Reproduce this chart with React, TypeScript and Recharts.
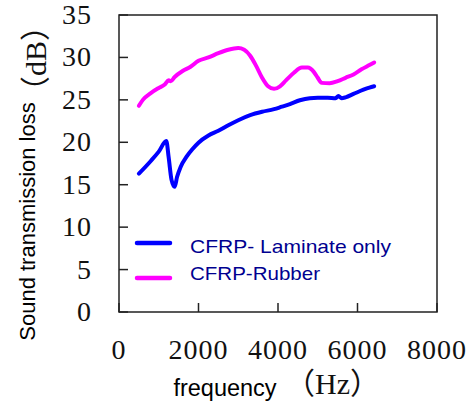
import React from 'react';
import { LineChart, Line, XAxis, YAxis, ReferenceArea, Legend } from 'recharts';

const laminateFreq = [500, 800, 1000, 1190, 1250, 1320, 1400, 1460, 1550, 1700, 1850, 2000, 2250, 2500, 2750, 3000, 3300, 3600, 3900, 4100, 4300, 4550, 4800, 5000, 5250, 5450, 5520, 5600, 5700, 5900, 6150, 6300, 6420];
const laminateLoss = [16.3, 17.8, 18.9, 20.15, 18.2, 15.6, 14.75, 15.9, 17.1, 18.3, 19.2, 19.95, 20.8, 21.35, 22.0, 22.6, 23.2, 23.6, 23.9, 24.2, 24.5, 24.95, 25.2, 25.25, 25.25, 25.2, 25.45, 25.2, 25.3, 25.7, 26.2, 26.45, 26.6];

const rubberFreq = [500, 600, 800, 1000, 1150, 1250, 1300, 1400, 1600, 1800, 2000, 2250, 2500, 2750, 3000, 3150, 3300, 3450, 3600, 3750, 3900, 4050, 4200, 4400, 4600, 4750, 4900, 5000, 5100, 5300, 5500, 5700, 5900, 6100, 6300, 6420];
const rubberLoss = [24.3, 25.0, 25.8, 26.4, 26.8, 27.3, 27.2, 27.7, 28.4, 28.9, 29.6, 30.0, 30.5, 30.9, 31.1, 30.9, 30.2, 29.0, 27.6, 26.6, 26.3, 26.6, 27.3, 28.2, 28.8, 28.8, 28.3, 27.6, 27.0, 26.95, 27.2, 27.6, 28.0, 28.6, 29.1, 29.4];

const xTicks = [0, 2000, 4000, 6000, 8000];
const yTicks = [0, 5, 10, 15, 20, 25, 30, 35];
const seriesNames = ['CFRP- Laminate only', 'CFRP-Rubber'];
const seriesColors = ['#0000ff', '#ff00ff'];

const laminateData = laminateFreq.map((f, i) => ({ f, v: laminateLoss[i] }));
const rubberData = rubberFreq.map((f, i) => ({ f, v: rubberLoss[i] }));

const SERIF = '"Liberation Serif", "Times New Roman", serif';
const SANS = '"Liberation Sans", Arial, sans-serif';
const CJKSERIF = '"Liberation Serif", "Noto Sans CJK SC", serif';

const XTick = (props: any) => {
  const { x, payload } = props;
  const y = 312;
  return (
    <g>
      <line x1={x} x2={x} y1={y} y2={y - 9} stroke="#222" strokeWidth={1.5} />
      <text x={x} y={y + 47} textAnchor="middle" fontFamily={SERIF} fontSize={28} letterSpacing={1} fill="#111">
        {payload.value}
      </text>
    </g>
  );
};

const YTick = (props: any) => {
  const { y, payload } = props;
  const x = 119;
  return (
    <g>
      <line x1={x} x2={x + 9} y1={y} y2={y} stroke="#222" strokeWidth={1.5} />
      <text x={x - 27} y={y + 9} textAnchor="end" fontFamily={SERIF} fontSize={28} letterSpacing={1} fill="#111">
        {payload.value}
      </text>
    </g>
  );
};

const YLabel = () => (
  <g>
    <text transform="translate(35,221.5) rotate(-90)" textAnchor="middle" fontFamily={SANS} fontSize={22} fill="#000">
      Sound transmission loss
    </text>
    <text transform="translate(46,58.5) rotate(-90)" textAnchor="middle" fontFamily={CJKSERIF} fontSize={30} fill="#111">
      （dB）
    </text>
  </g>
);

const XLabel = () => (
  <g>
    <text x={225} y={396} textAnchor="middle" fontFamily={SANS} fontSize={23.5} fill="#000">
      frequency
    </text>
    <text x={332.5} y={394} textAnchor="middle" fontFamily={CJKSERIF} fontSize={30} fill="#111">
      （Hz）
    </text>
  </g>
);

const textWidths = [201, 130];
const LegendContent = () => (
  <svg width={300} height={64} style={{ overflow: 'visible' }}>
    {seriesNames.map((name, i) => {
      const ly = i === 0 ? 15 : 50;
      const ty = i === 0 ? 25 : 52;
      return (
        <g key={name}>
          <line x1={9} x2={42} y1={ly} y2={ly} stroke={seriesColors[i]} strokeWidth={4.5} strokeLinecap="round" />
          <text x={62} y={ty} fontFamily={SANS} fontSize={19} fill="#000090" textLength={textWidths[i]} lengthAdjust="spacingAndGlyphs">
            {name}
          </text>
        </g>
      );
    })}
  </svg>
);

export default function App() {
  return (
    <div style={{ position: 'absolute', left: 0, top: 0, width: 471, height: 402, background: '#fff' }}>
      <LineChart width={471} height={402} margin={{ top: 15, right: 34, left: 59, bottom: 50 }}>
        <XAxis
          type="number"
          dataKey="f"
          domain={[0, 8000]}
          ticks={xTicks}
          interval={0}
          height={40}
          tickSize={0}
          tickMargin={0}
          axisLine={false}
          tickLine={false}
          tick={<XTick />}
          allowDataOverflow
          label={{ content: <XLabel /> }}
        />
        <YAxis
          type="number"
          dataKey="v"
          domain={[0, 35]}
          ticks={yTicks}
          interval={0}
          width={60}
          tickSize={0}
          tickMargin={0}
          axisLine={false}
          tickLine={false}
          tick={<YTick />}
          allowDataOverflow
          label={{ content: <YLabel /> }}
        />
        <ReferenceArea x1={0} x2={8000} y1={0} y2={35} fill="none" stroke="#222" strokeWidth={1.5} ifOverflow="visible" />
        <Line data={laminateData} dataKey="v" name={seriesNames[0]} type="monotone" stroke={seriesColors[0]} strokeWidth={4} dot={false} isAnimationActive={false} strokeLinecap="round" strokeLinejoin="round" />
        <Line data={rubberData} dataKey="v" name={seriesNames[1]} type="monotone" stroke={seriesColors[1]} strokeWidth={4} dot={false} isAnimationActive={false} strokeLinecap="round" strokeLinejoin="round" />
        <Legend layout="vertical" verticalAlign="middle" align="center" content={<LegendContent />} wrapperStyle={{ left: 128, top: 228, width: 300, height: 64 }} />
      </LineChart>
    </div>
  );
}
